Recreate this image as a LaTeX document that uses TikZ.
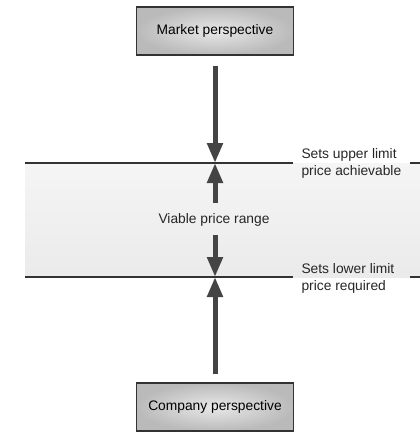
\documentclass[tikz,border=0pt]{standalone}
\usepackage{fontspec}
\setmainfont{Liberation Sans}
\usetikzlibrary{arrows.meta}
\definecolor{arrowgray}{HTML}{444444}
\definecolor{linegray}{HTML}{333333}
\begin{document}
\begin{tikzpicture}[x=1pt,y=-1pt,
  persp/.style={draw=linegray, line width=1.3pt, inner color=black!9, outer color=black!27,
    minimum width=157pt, minimum height=48pt, font=\fontsize{13.8}{16}\selectfont},
  txt/.style={font=\fontsize{13.8}{17}\selectfont, text=black!85},
  bandline/.style={draw=linegray, line width=1.4pt},
  bigarrow/.style={draw=arrowgray, line width=5pt, -{Triangle[width=15pt,length=20pt]}}]
\useasboundingbox (0,0) rectangle (420,432);
% band
\shade[top color=black!4, middle color=black!17, bottom color=black!8] (25,163) rectangle (420,277);
\coordinate (tl) at (25,163);
\coordinate (tm) at (215,163);
\coordinate (tg) at (293,163);
\coordinate (tr1) at (410,163);
\coordinate (tr2) at (420,163);
\coordinate (bl) at (25,277);
\coordinate (bm) at (215,277);
\coordinate (bg) at (293,277);
\coordinate (br1) at (410,277);
\coordinate (br2) at (420,277);
\draw[bandline] (tl) -- (tg);
\draw[bandline] (tr1) -- (tr2);
\draw[bandline] (bl) -- (bg);
\draw[bandline] (br1) -- (br2);
% nodes
\node[persp] (market) at (215,31) {Market perspective};
\node[persp] (company) at (215,407) {Company perspective};
\node[txt] (range) at (214,220) {Viable price range};
\node[txt, anchor=west, align=left] (upper) at (298,163) {Sets upper limit\\price achievable};
\node[txt, anchor=west, align=left] (lower) at (298,278) {Sets lower limit\\price required};
\coordinate (ra) at (215,203);
\coordinate (rb) at (215,235);
% arrows
\draw[bigarrow, shorten <=10pt] (market.south) -- (tm);
\draw[bigarrow] (ra) -- (tm);
\draw[bigarrow] (rb) -- (bm);
\draw[bigarrow, shorten <=8pt] (company.north) -- (bm);
\end{tikzpicture}
\end{document}
